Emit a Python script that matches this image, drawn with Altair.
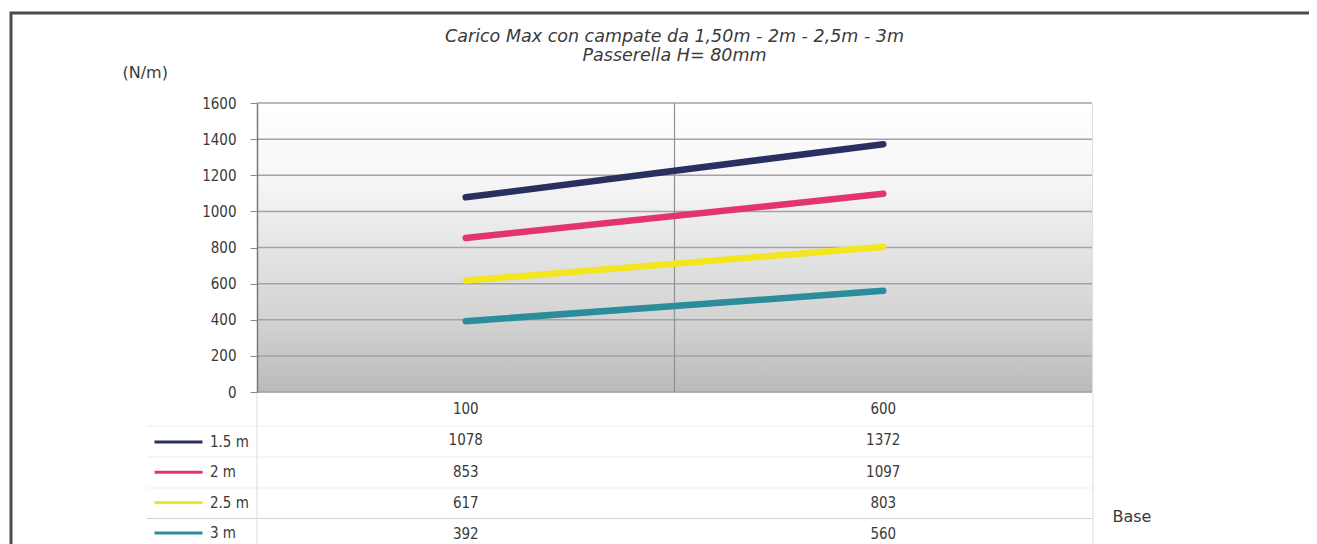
import altair as alt
import pandas as pd

# ---- data ----
categories = ["100", "600"]
series = ["1.5 m", "2 m", "2.5 m", "3 m"]
values_100 = [1078, 853, 617, 392]
values_600 = [1372, 1097, 803, 560]
colors = ["#28305f", "#e2356f", "#f3e51f", "#2b8d9c"]
y_ticks = [0, 200, 400, 600, 800, 1000, 1200, 1400, 1600]
title_lines = ["Carico Max con campate da 1,50m - 2m - 2,5m - 3m", "Passerella H= 80mm"]

W, H = 835, 289
FONT = "DejaVu Sans"
FONTC = "DejaVu Sans Condensed"
TXT = "#3a3a3a"

line_rows = []
for s, a, b in zip(series, values_100, values_600):
    line_rows.append({"series": s, "base": categories[0], "value": a})
    line_rows.append({"series": s, "base": categories[1], "value": b})
line_df = pd.DataFrame(line_rows)

row_domain = ["Base"] + series
table_rows = [{"row": "Base", "base": c, "label": c} for c in categories]
for s, a, b in zip(series, values_100, values_600):
    table_rows.append({"row": s, "base": categories[0], "label": str(a)})
    table_rows.append({"row": s, "base": categories[1], "label": str(b)})
table_df = pd.DataFrame(table_rows)

x_scale = alt.Scale(type="band", domain=categories, paddingInner=0, paddingOuter=0)
y_scale = alt.Scale(domain=[0, 1600], nice=False)

x_axis = alt.Axis(grid=False, labels=False, ticks=False, domain=False,
                  title="Base", titleX=855, titleY=124, titleAlign="left",
                  titleBaseline="middle", titleFont=FONT, titleFontSize=16,
                  titleFontWeight="normal", titleColor=TXT)

y_axis = alt.Axis(values=y_ticks, format="d", labelOverlap=False, grid=False, zindex=1,
                  domainColor="#7a7a7a", domainWidth=1.5, tickColor="#8a8a8a",
                  tickSize=7, labelFont=FONTC, labelFontSize=15, labelColor=TXT,
                  labelPadding=14,
                  title="(N/m)", titleAngle=0, titleX=-135, titleY=-31,
                  titleAlign="left", titleBaseline="middle", titleFont=FONT,
                  titleFontSize=16, titleFontWeight="normal", titleColor=TXT)

gradient = alt.Gradient(
    gradient="linear", x1=0, y1=0, x2=0, y2=1,
    stops=[alt.GradientStop(offset=0, color="#ffffff"),
           alt.GradientStop(offset=0.25, color="#f7f7f7"),
           alt.GradientStop(offset=0.5, color="#e5e5e5"),
           alt.GradientStop(offset=0.75, color="#d3d3d3"),
           alt.GradientStop(offset=1, color="#bababa")],
)

bg = alt.Chart(pd.DataFrame({"k": [0]})).mark_rect(color=gradient).encode(
    x=alt.value(0), x2=alt.value(W), y=alt.value(0), y2=alt.value(H),
)

hgrid = alt.Chart(pd.DataFrame({"value": y_ticks})).mark_rule(color="#a3a3a3", strokeWidth=1.5).encode(
    y=alt.Y("value:Q", scale=y_scale, axis=y_axis),
)
vgrid = alt.Chart(pd.DataFrame({"base": [categories[1]]})).mark_rule(color="#909090", strokeWidth=1.2).encode(
    x=alt.X("base:N", scale=x_scale, sort=categories, bandPosition=0, axis=x_axis),
)

lines = alt.Chart(line_df).mark_line(strokeWidth=6.5, strokeCap="round", strokeJoin="round").encode(
    x=alt.X("base:N", scale=x_scale, sort=categories, axis=x_axis),
    y=alt.Y("value:Q", scale=y_scale, axis=y_axis),
    color=alt.Color("series:N", scale=alt.Scale(domain=series, range=colors), sort=series,
                    legend=alt.Legend(orient="none", legendX=-104, legendY=329, direction="vertical",
                                      title=None, symbolType="stroke", symbolSize=2304,
                                      symbolStrokeWidth=3, clipHeight=20, rowPadding=10.3,
                                      labelOffset=6, labelFont=FONTC, labelFontSize=15,
                                      labelColor=TXT, padding=0)),
)

plot = alt.layer(bg, hgrid, vgrid, lines)

table = alt.Chart(table_df).mark_text(font=FONTC, fontSize=15, color=TXT, baseline="middle").encode(
    x=alt.X("base:N", scale=x_scale, sort=categories, axis=x_axis),
    y=alt.Y("row:N", scale=alt.Scale(type="point", domain=row_domain, range=[306, 431], padding=0),
            axis=None),
    text="label:N",
)

# table borders (decoration)
hlines = pd.DataFrame({"pos": [323, 354, 385, 415.5], "shade": ["a", "a", "a", "b"]})
table_h = alt.Chart(hlines).mark_rule(strokeWidth=1.2).encode(
    x=alt.value(-110), x2=alt.value(836),
    y=alt.Y("pos:Q", scale=None),
    color=alt.Color("shade:N", scale=alt.Scale(domain=["a", "b"], range=["#ededed", "#d2d2d2"]), legend=None),
)
vlines = pd.DataFrame({"px": [0, 836]})
table_v = alt.Chart(vlines).mark_rule(color="#e2e2e2", strokeWidth=1.2).encode(
    x=alt.X("px:Q", scale=None), y=alt.value(290), y2=alt.value(445),
)

frame = alt.Chart(pd.DataFrame({"k": [0]})).mark_rect(filled=False, stroke="#4d4d4d", strokeWidth=3).encode(
    x=alt.value(-246), x2=alt.value(1200), y=alt.value(-90), y2=alt.value(600),
)

chart = alt.layer(frame, table_h, table_v, plot, table).resolve_scale(
    y="independent", color="independent"
).properties(
    width=W, height=H,
    title=alt.TitleParams(text=title_lines, anchor="middle", frame="group", font=FONT,
                          fontSize=17.5, fontStyle="italic", fontWeight="normal",
                          color=TXT, lineHeight=19, offset=8, dy=61),
    autosize=alt.AutoSizeParams(type="none"),
    padding={"left": 249, "top": 95, "right": 217, "bottom": 152},
).configure_view(
    stroke="#a8a8a8", strokeWidth=1,
).configure(background="#ffffff")

chart.save("out.html", embed_options={"renderer": "svg", "actions": False})
